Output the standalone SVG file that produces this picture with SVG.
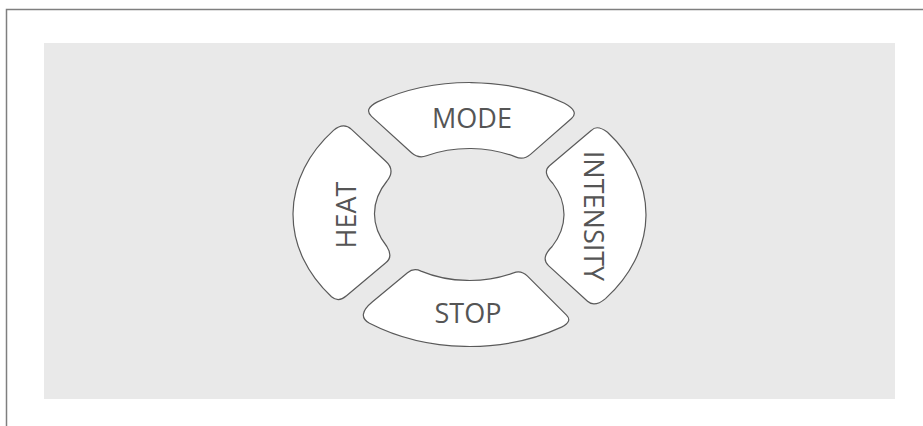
<svg xmlns="http://www.w3.org/2000/svg" width="923" height="426" viewBox="0 0 923 426">
  <style>
    .btn { fill: #ffffff; stroke: #5a5a5a; stroke-width: 1.2; stroke-linejoin: round; }
    .lbl { font-family: "Open Sans", "Noto Sans", "Liberation Sans", sans-serif; font-size: 27px; fill: #555555; text-anchor: middle; }
  </style>
  <rect x="0" y="0" width="923" height="426" fill="#ffffff"/>
  <path d="M6.5,426 L6.5,9.5 L923,9.5" fill="none" stroke="#7f7f7f" stroke-width="1.5"/>
  <rect x="44" y="43" width="851" height="356" fill="#e9e9e9"/>

  <g id="connectors"></g>

  <g id="mode">
    <path class="btn" d="M377.5,101.9 Q363.5,109 371.5,116.4 L411.5,152.8 Q418.5,158.9 426.5,155.7 A94.5,66 0 0 1 515.5,156.85 Q523.5,160.4 530.5,154.4 L571.5,118.5 Q579.5,111.5 564.5,103.25 A176.5,132 0 0 0 377.5,101.9 Z"/>
    <text class="lbl" x="472" y="127.5">MODE</text>
  </g>

  <g id="heat">
    <path class="btn" d="M351.5,129.4 L386,161.5 Q395.5,170 387,181 A94.5,66 0 0 0 386.85,246.5 Q393.5,257 385.5,263 L346.5,295.8 Q338.5,302.7 331.5,296.8 A176.5,132 0 0 1 333.5,130.4 Q343.5,122 351.5,129.4 Z"/>
    <text class="lbl" transform="translate(355.5,215) rotate(-90)" x="0" y="0">HEAT</text>
  </g>

  <g id="intensity">
    <path class="btn" d="M591.5,130.3 Q597,124.4 607.5,132.2 A176.5,132 0 0 1 605.5,298.6 Q594.5,307.7 587.5,301.3 L548.5,265.6 Q540.3,258.2 552.15,246.5 A94.5,66 0 0 0 552.9,183.5 Q541.9,172.1 549.5,165.7 Z"/>
    <text class="lbl" transform="translate(583.5,216) rotate(90)" x="0" y="0">INTENSITY</text>
  </g>

  <g id="stop">
    <path class="btn" d="M407.5,272.7 L372.5,301.8 Q355.8,315.6 369.5,323.3 A176.5,132 0 0 0 561.5,327.15 Q572.8,321.5 566.5,315.2 L527.5,276.2 Q521,269.75 513.5,272.9 A94.5,66 0 0 1 421,271.1 Q413.5,267.7 407.5,272.7 Z"/>
    <text class="lbl" x="468" y="322.5">STOP</text>
  </g>
</svg>
